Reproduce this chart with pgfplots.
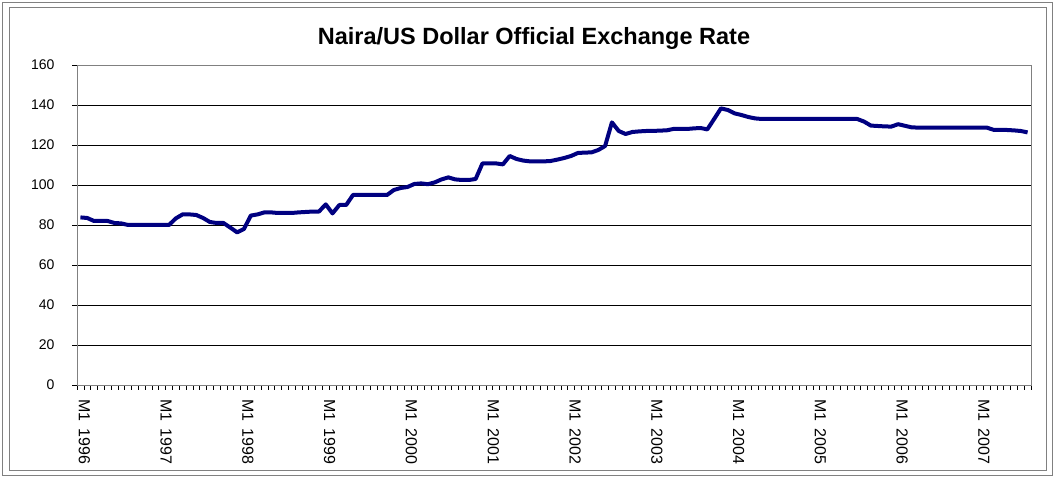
\documentclass[border=0pt]{standalone}
\usepackage{pgfplots}
\pgfplotsset{compat=1.18}
\usepackage{pgfplotstable}
\usepackage{graphicx}
\usepackage{fontspec}
\setmainfont{Liberation Sans}
\definecolor{navyline}{RGB}{0,0,128}
\definecolor{framegray}{RGB}{128,128,128}
\newcommand{\ml}[1]{\rotatebox{-90}{M1\ \,#1}}
\pgfplotstableread{
i v
0 83.8
1 83.5
2 82
3 82
4 82
5 81
6 80.8
7 80
8 80
9 80
10 80
11 80
12 80
13 80
14 83.3
15 85.3
16 85.3
17 85
18 83.5
19 81.5
20 81
21 81
22 78.7
23 76.3
24 78
25 84.7
26 85.3
27 86.3
28 86.3
29 86
30 86
31 86
32 86.3
33 86.5
34 86.7
35 86.7
36 90.3
37 85.8
38 90
39 90
40 95
41 95
42 95
43 95
44 95
45 95
46 97.5
47 98.5
48 99
49 100.5
50 100.8
51 100.4
52 101.3
53 102.8
54 103.8
55 102.8
56 102.5
57 102.5
58 103
59 110.8
60 110.8
61 110.8
62 110.3
63 114.5
64 113
65 112.2
66 111.8
67 111.8
68 111.8
69 112
70 112.7
71 113.5
72 114.5
73 116
74 116.2
75 116.3
76 117.5
77 119.5
78 131.3
79 127
80 125.5
81 126.5
82 126.8
83 127
84 127
85 127.2
86 127.3
87 128
88 128
89 128
90 128.3
91 128.5
92 127.8
93 133
94 138.3
95 137.5
96 135.8
97 135
98 134
99 133.3
100 133
101 133
102 133
103 133
104 133
105 133
106 133
107 133
108 133
109 133
110 133
111 133
112 133
113 133
114 133
115 131.7
116 129.7
117 129.5
118 129.3
119 129.2
120 130.4
121 129.6
122 128.8
123 128.7
124 128.7
125 128.7
126 128.7
127 128.7
128 128.7
129 128.7
130 128.7
131 128.7
132 128.7
133 128.7
134 127.6
135 127.5
136 127.5
137 127.3
138 127
139 126.3
}\ratedata
\begin{document}
\begin{tikzpicture}[x=1pt,y=1pt]
\useasboundingbox (0,0) rectangle (1055,478);
\draw[framegray,line width=0.8pt] (2.5,2.5) rectangle (1052.5,475.5);
\draw[framegray,line width=0.8pt] (9.5,7.5) rectangle (1046.5,470.5);
\node[anchor=base,font=\fontsize{23.5}{26}\selectfont\bfseries] at (534,433) {Naira/US Dollar Official Exchange Rate};
\begin{axis}[
  at={(77pt,93pt)}, anchor=south west,
  scale only axis, width=954pt, height=320pt,
  xmin=-0.5, xmax=139.5, ymin=0, ymax=160,
  ytick={0,20,...,160},
  ymajorgrids,
  grid style={black,line width=0.6pt},
  x axis line style={black,line width=0.8pt},
  y axis line style={framegray,line width=0.8pt},
  tick align=outside,
  ytick pos=left,
  xtick pos=bottom,
  major tick length=5pt,
  tick style={black,line width=0.6pt},
  xtick={-0.5,0.5,...,139.5},
  xticklabels={},
  extra x ticks={0,12,...,132},
  extra x tick labels={\ml{1996},\ml{1997},\ml{1998},\ml{1999},\ml{2000},\ml{2001},\ml{2002},\ml{2003},\ml{2004},\ml{2005},\ml{2006},\ml{2007}},
  extra x tick style={tick style={draw=none},
     xticklabel style={anchor=north, inner sep=0pt, xshift=4pt, yshift=-9pt, font=\fontsize{16}{18}\selectfont}},
  yticklabel style={font=\fontsize{14}{16}\selectfont, anchor=east, xshift=-14pt},
  /pgf/number format/assume math mode=true,
  clip=false,
]
\addplot[navyline, line width=4pt, line join=round] table[x=i,y=v] {\ratedata};
\end{axis}
\end{tikzpicture}
\end{document}
